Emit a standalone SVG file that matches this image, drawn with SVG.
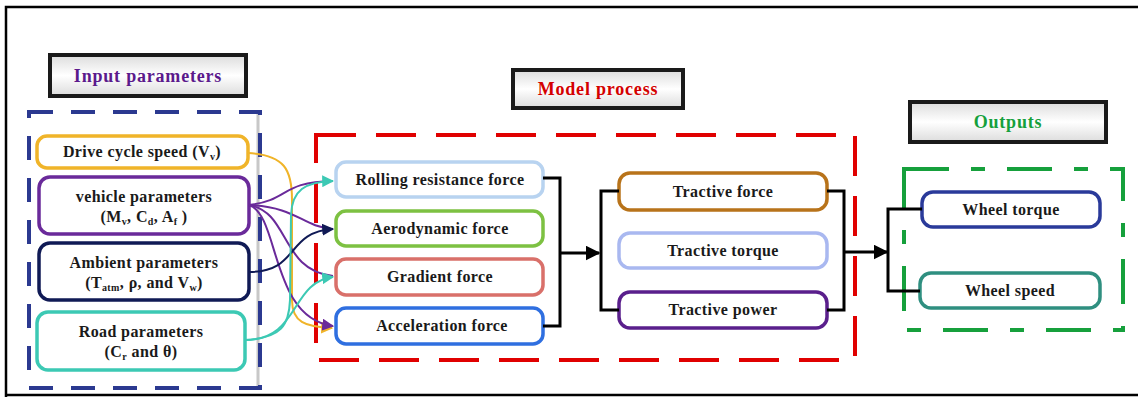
<svg xmlns="http://www.w3.org/2000/svg" width="1138" height="397" viewBox="0 0 1138 397">
  <defs>
    <linearGradient id="titleFill" x1="0" y1="0" x2="0" y2="1">
      <stop offset="0" stop-color="#dcdcdc"/>
      <stop offset="0.5" stop-color="#ffffff"/>
      <stop offset="1" stop-color="#dcdcdc"/>
    </linearGradient>
    <marker id="ahBlack" viewBox="0 0 10 10" refX="9" refY="5" markerWidth="5" markerHeight="5" orient="auto" markerUnits="strokeWidth">
      <path d="M0,0 L10,5 L0,10 z" fill="#000"/>
    </marker>
    <marker id="ahTeal" viewBox="0 0 10 10" refX="9" refY="5" markerWidth="6" markerHeight="6" orient="auto" markerUnits="strokeWidth">
      <path d="M0,0 L10,5 L0,10 z" fill="#3cc9b4"/>
    </marker>
    <marker id="ahNavy" viewBox="0 0 10 10" refX="9" refY="5" markerWidth="6" markerHeight="6" orient="auto" markerUnits="strokeWidth">
      <path d="M0,0 L10,5 L0,10 z" fill="#101a55"/>
    </marker>
    <marker id="ahPurple" viewBox="0 0 10 10" refX="9" refY="5" markerWidth="6" markerHeight="6" orient="auto" markerUnits="strokeWidth">
      <path d="M0,0 L10,5 L0,10 z" fill="#6a2a9a"/>
    </marker>
    <marker id="ahOrange" viewBox="0 0 10 10" refX="9" refY="5" markerWidth="6" markerHeight="6" orient="auto" markerUnits="strokeWidth">
      <path d="M0,0 L10,5 L0,10 z" fill="#f0b429"/>
    </marker>
  </defs>
  <style>
    text { font-family: "Liberation Serif", "Times New Roman", serif; font-weight: bold; text-anchor: middle; fill: #1a1a1a; }
    .lbl { font-size: 16px; letter-spacing: 0.4px; }
    .title { font-size: 18px; letter-spacing: 0.8px; }
    .titlebox { fill: url(#titleFill); stroke: #1a1a1a; stroke-width: 4; }
    .node { fill: #ffffff; stroke-width: 3.5; }
    .link { fill: none; stroke-width: 2; }
    .bracket { fill: none; stroke: #000; stroke-width: 3; }
    .group { fill: none; stroke-width: 4; }
  </style>

  <rect width="1138" height="397" fill="#ffffff"/>
  <!-- outer frame -->
  <path d="M6,397 V7 H1138 M6,395 H1138" fill="none" stroke="#000" stroke-width="2.5"/>

  <!-- group frames -->
  <g id="frames">
    <line x1="258" y1="114" x2="258" y2="386" stroke="#c8c8c8" stroke-width="3"/>
    <rect class="group" x="29" y="112" width="231" height="276" stroke="#2b3990" stroke-dasharray="24 18"/>
    <rect class="group" x="316" y="135" width="539" height="225" stroke="#e00000" stroke-dasharray="40 20"/>
    <rect class="group" x="904" y="169" width="219" height="161" stroke="#16a03c" stroke-dasharray="45 22 14 22"/>
  </g>

  <!-- section titles -->
  <g id="title-inputs">
    <rect class="titlebox" x="50" y="55" width="196" height="41"/>
    <text class="title" x="148" y="82" style="fill:#5b1a8c">Input parameters</text>
  </g>
  <g id="title-model">
    <rect class="titlebox" x="513" y="70" width="170" height="38"/>
    <text class="title" x="598" y="95" style="fill:#d40000">Model process</text>
  </g>
  <g id="title-outputs">
    <rect class="titlebox" x="910" y="102" width="196" height="40"/>
    <text class="title" x="1008" y="128" style="fill:#16a03c">Outputs</text>
  </g>

  <!-- input nodes -->
  <g id="drive-cycle-speed">
    <rect class="node" x="37" y="136" width="211" height="32" rx="10" stroke="#f0b429"/>
    <text class="lbl" x="142" y="157">Drive cycle speed (V<tspan font-size="10" dy="3">v</tspan><tspan dy="-3">)</tspan></text>
  </g>
  <g id="vehicle-parameters">
    <rect class="node" x="39" y="177" width="210" height="57" rx="11" stroke="#6a2a9a"/>
    <text class="lbl" x="144" y="202">vehicle parameters</text>
    <text class="lbl" x="144" y="222">(M<tspan font-size="10" dy="3">v</tspan><tspan dy="-3">, C</tspan><tspan font-size="10" dy="3">d</tspan><tspan dy="-3">, A</tspan><tspan font-size="10" dy="3">f</tspan><tspan dy="-3"> )</tspan></text>
  </g>
  <g id="ambient-parameters">
    <rect class="node" x="39" y="243" width="210" height="57" rx="11" stroke="#101a55"/>
    <text class="lbl" x="144" y="268">Ambient parameters</text>
    <text class="lbl" x="144" y="288">(T<tspan font-size="10" dy="3">atm</tspan><tspan dy="-3">, ρ, and V</tspan><tspan font-size="10" dy="3">w</tspan><tspan dy="-3">)</tspan></text>
  </g>
  <g id="road-parameters">
    <rect class="node" x="37" y="312" width="208" height="58" rx="11" stroke="#3cc9b4"/>
    <text class="lbl" x="141" y="337">Road parameters</text>
    <text class="lbl" x="141" y="357">(C<tspan font-size="10" dy="3">r</tspan><tspan dy="-3"> and θ)</tspan></text>
  </g>

  <!-- force nodes -->
  <g id="rolling-resistance-force">
    <rect class="node" x="336" y="162" width="207" height="35" rx="10" stroke="#b8d3f0"/>
    <text class="lbl" x="440" y="185">Rolling resistance force</text>
  </g>
  <g id="aerodynamic-force">
    <rect class="node" x="336" y="211" width="207" height="35" rx="10" stroke="#7dc142"/>
    <text class="lbl" x="440" y="234">Aerodynamic force</text>
  </g>
  <g id="gradient-force">
    <rect class="node" x="336" y="259" width="207" height="36" rx="10" stroke="#d9706a"/>
    <text class="lbl" x="440" y="282">Gradient force</text>
  </g>
  <g id="acceleration-force">
    <rect class="node" x="336" y="308" width="207" height="36" rx="10" stroke="#2f6fe0"/>
    <text class="lbl" x="442" y="331">Acceleration force</text>
  </g>

  <!-- tractive nodes -->
  <g id="tractive-force">
    <rect class="node" x="619" y="173" width="208" height="37" rx="11" stroke="#b8731a"/>
    <text class="lbl" x="723" y="197">Tractive force</text>
  </g>
  <g id="tractive-torque">
    <rect class="node" x="619" y="233" width="208" height="35" rx="11" stroke="#a9b8f0"/>
    <text class="lbl" x="723" y="256">Tractive torque</text>
  </g>
  <g id="tractive-power">
    <rect class="node" x="619" y="292" width="208" height="36" rx="11" stroke="#5a1f8c"/>
    <text class="lbl" x="723" y="315">Tractive power</text>
  </g>

  <!-- output nodes -->
  <g id="wheel-torque">
    <rect class="node" x="922" y="192" width="178" height="35" rx="11" stroke="#2a3a9a"/>
    <text class="lbl" x="1011" y="215">Wheel torque</text>
  </g>
  <g id="wheel-speed">
    <rect class="node" x="920" y="273" width="180" height="35" rx="11" stroke="#2f8f80"/>
    <text class="lbl" x="1010" y="296">Wheel speed</text>
  </g>

  <!-- connectors -->
  <g id="connectors">
    <!-- drive cycle speed to acceleration force -->
    <path class="link" stroke="#f0b429" d="M248,153 C285,155 292,170 292,200 L292,300 C292,322 305,327 332,328" marker-end="url(#ahOrange)"/>
    <!-- vehicle parameters fan-out -->
    <path class="link" stroke="#6a2a9a" d="M249,205 C290,200 280,182 333,181" marker-end="url(#ahTeal)"/>
    <path class="link" stroke="#6a2a9a" d="M249,205 C300,208 300,226 333,229"/>
    <path class="link" stroke="#6a2a9a" d="M249,205 C290,212 280,270 333,276"/>
    <path class="link" stroke="#6a2a9a" d="M249,205 C280,215 270,318 333,326" marker-end="url(#ahPurple)"/>
    <!-- ambient parameters to aerodynamic force -->
    <path class="link" stroke="#101a55" d="M249,272 C300,272 285,232 333,229" marker-end="url(#ahNavy)"/>
    <!-- road parameters to gradient and rolling resistance -->
    <path class="link" stroke="#3cc9b4" d="M245,340 C300,340 290,282 333,277" marker-end="url(#ahTeal)"/>
    <path class="link" stroke="#3cc9b4" d="M245,340 C282,338 289,325 290,300 L291,215 C292,190 305,182 333,181"/>

    <!-- forces to tractive outputs -->
    <path class="bracket" d="M543,178 H560 V326 H543"/>
    <path class="bracket" d="M560,253 H599" marker-end="url(#ahBlack)"/>
    <path class="bracket" d="M619,191 H601 V310 H619"/>
    <!-- tractive outputs to wheel outputs -->
    <path class="bracket" d="M827,191 H844 V310 H827"/>
    <path class="bracket" d="M844,252 H887" marker-end="url(#ahBlack)"/>
    <path class="bracket" d="M922,209 H888 V291 H920"/>
  </g>
</svg>
